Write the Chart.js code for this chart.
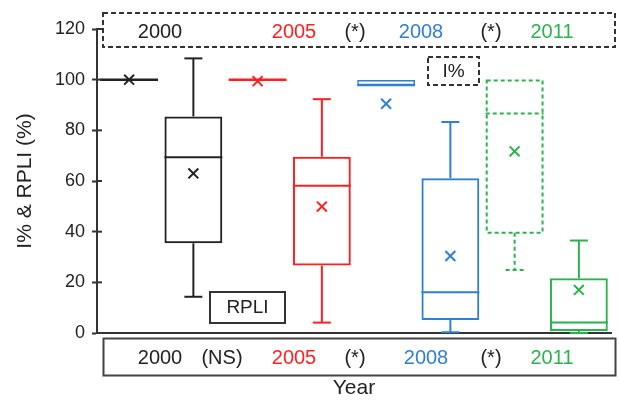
<!DOCTYPE html>
<html>
<head>
<meta charset="utf-8">
<script src="https://cdn.jsdelivr.net/npm/chart.js@4.4.1/dist/chart.umd.min.js"></script>
<style>
  html, body { margin: 0; padding: 0; background: #fff; }
  #wrap { width: 620px; height: 401px; }
</style>
</head>
<body>
<div id="wrap"><canvas id="boxChart"></canvas></div>
<script>
// one box per year and index, I% then RPLI
const boxLabels = ['2000 I%', '2000 RPLI', '2005 I%', '2005 RPLI', '2008 I%', '2008 RPLI', '2011 I%', '2011 RPLI'];
const q1 = [100, 35.4, 100, 26.6, 97.8, 5.1, 39.6, 0.8];
const q3 = [100, 85.5, 100, 69.6, 99.9, 61.1, 99.7, 21.6];
const medians = [100, 69.4, 100, 58.1, 97.8, 16.1, 86.6, 4.1];
const whiskerLow = [100, 14.3, 100, 4.1, 97.8, 0.3, 24.9, 0];
const whiskerHigh = [100, 108.4, 100, 92.3, 99.9, 83.3, 99.7, 36.5];
const means = [100, 63.0, 99.4, 49.9, 90.5, 30.4, 71.7, 17.0];
const yTicks = [0, 20, 40, 60, 80, 100, 120];

const yearColors = { '2000': '#222222', '2005': '#ff1f1f', '2008': '#2f7fd3', '2011': '#2bb24c' };
const boxColors = boxLabels.map(l => yearColors[l.slice(0, 4)]);
const dashedBox = [false, false, false, false, false, false, true, false];
const boxBorder = [2, 2, 2, 2, 1.5, 2, 0, 2];

// labels over and under the plot
const topNotes = [
  { text: '2000', x: 160, color: yearColors['2000'] },
  { text: '2005', x: 294, color: yearColors['2005'] },
  { text: '(*)', x: 355, color: '#222' },
  { text: '2008', x: 421, color: yearColors['2008'] },
  { text: '(*)', x: 491, color: '#222' },
  { text: '2011', x: 552, color: yearColors['2011'] }
];
const bottomNotes = [
  { text: '2000', x: 160, color: yearColors['2000'] },
  { text: '(NS)', x: 222, color: '#222' },
  { text: '2005', x: 294, color: yearColors['2005'] },
  { text: '(*)', x: 355, color: '#222' },
  { text: '2008', x: 426, color: yearColors['2008'] },
  { text: '(*)', x: 491, color: '#222' },
  { text: '2011', x: 552, color: yearColors['2011'] }
];

const FONT = '"Liberation Sans", Arial, sans-serif';

const boxPlotParts = {
  id: 'boxPlotParts',
  afterDatasetsDraw(chart) {
    const ctx = chart.ctx;
    const y = chart.scales.y;
    const bars = chart.getDatasetMeta(0).data;
    bars.forEach((bar, i) => {
      const half = bar.width / 2;
      const cx = bar.x;
      const capHalf = 9;
      const line = (x1, y1, x2, y2) => {
        ctx.beginPath();
        ctx.moveTo(x1, y1);
        ctx.lineTo(x2, y2);
        ctx.stroke();
      };
      ctx.save();
      ctx.strokeStyle = boxColors[i];
      ctx.lineWidth = 2;
      if (dashedBox[i]) {
        ctx.setLineDash([4, 3]);
        const top = y.getPixelForValue(q3[i]);
        const bot = y.getPixelForValue(q1[i]);
        ctx.strokeRect(cx - half + 1, top, bar.width - 2, bot - top);
      }
      const ym = y.getPixelForValue(medians[i]);
      if (q1[i] === q3[i]) ctx.lineWidth = 2.5;
      line(cx - half, ym, cx + half, ym);
      ctx.lineWidth = 2;
      if (whiskerHigh[i] > q3[i]) {
        const yt = y.getPixelForValue(whiskerHigh[i]);
        line(cx, y.getPixelForValue(q3[i]), cx, yt);
        line(cx - capHalf, yt, cx + capHalf, yt);
      }
      if (whiskerLow[i] < q1[i]) {
        const yb = y.getPixelForValue(whiskerLow[i]);
        line(cx, y.getPixelForValue(q1[i]), cx, yb);
        line(cx - capHalf, yb, cx + capHalf, yb);
      }
      ctx.restore();
    });
    // short inner tick marks on the y axis
    const xa = chart.chartArea.left;
    ctx.save();
    ctx.strokeStyle = '#333';
    ctx.lineWidth = 2;
    yTicks.slice(1).forEach(v => {
      const py = y.getPixelForValue(v);
      ctx.beginPath();
      ctx.moveTo(xa, py);
      ctx.lineTo(xa + 5, py);
      ctx.stroke();
    });
    ctx.restore();
  }
};

const notes = {
  id: 'notes',
  afterDraw(chart) {
    const ctx = chart.ctx;
    ctx.save();
    ctx.textAlign = 'center';
    ctx.textBaseline = 'middle';

    // top dashed frame
    ctx.strokeStyle = '#333';
    ctx.lineWidth = 2;
    ctx.setLineDash([5, 3]);
    ctx.strokeRect(103, 13, 512, 34);
    ctx.font = '20px ' + FONT;
    topNotes.forEach(n => { ctx.fillStyle = n.color; ctx.fillText(n.text, n.x, 32.5); });

    // I% label
    ctx.strokeRect(428, 57, 51, 28);
    ctx.fillStyle = '#222';
    ctx.font = '19px ' + FONT;
    ctx.fillText('I%', 453.5, 71.5);

    // RPLI label
    ctx.setLineDash([]);
    ctx.strokeRect(210, 292, 75, 31);
    ctx.fillText('RPLI', 247.5, 308);

    // bottom frame
    ctx.strokeStyle = '#444';
    ctx.strokeRect(103.5, 338.5, 512, 37);
    ctx.font = '20px ' + FONT;
    bottomNotes.forEach(n => { ctx.fillStyle = n.color; ctx.fillText(n.text, n.x, 358); });
    ctx.restore();
  }
};

new Chart(document.getElementById('boxChart'), {
  data: {
    labels: boxLabels,
    datasets: [
      {
        type: 'bar',
        data: boxLabels.map((l, i) => [q1[i], q3[i]]),
        backgroundColor: 'rgba(0,0,0,0)',
        borderColor: boxColors,
        borderWidth: boxBorder,
        borderSkipped: false,
        categoryPercentage: 1,
        barPercentage: 0.9,
        order: 2
      },
      {
        type: 'line',
        data: means,
        showLine: false,
        pointStyle: 'crossRot',
        pointRadius: 7,
        pointHoverRadius: 7,
        pointBorderWidth: 2,
        pointBorderColor: boxColors,
        pointBackgroundColor: boxColors,
        order: 1
      }
    ]
  },
  options: {
    responsive: true,
    maintainAspectRatio: false,
    animation: false,
    events: [],
    layout: { padding: { top: 29, right: 3, left: 0, bottom: 0 } },
    plugins: { legend: { display: false }, tooltip: { enabled: false } },
    scales: {
      x: {
        grid: { display: false },
        border: { color: '#333', width: 2 },
        ticks: { display: false },
        title: { display: true, text: 'Year', color: '#222', font: { family: FONT, size: 21 }, padding: { top: 0, bottom: 0 } },
        afterFit: s => { s.height = 68; }
      },
      y: {
        min: 0,
        max: 120,
        afterBuildTicks: s => { s.ticks = yTicks.map(v => ({ value: v })); },
        grid: { drawOnChartArea: false, drawTicks: true, tickLength: 5, color: '#333', tickWidth: 2 },
        border: { color: '#333', width: 2 },
        ticks: { color: '#222', padding: 7, font: { family: FONT, size: 18 } },
        title: { display: true, text: 'I% & RPLI (%)', color: '#222', font: { family: FONT, size: 21 }, padding: { top: 13, bottom: 0 } },
        afterFit: s => { s.width = 97; }
      }
    }
  },
  plugins: [boxPlotParts, notes]
});
</script>
</body>
</html>
